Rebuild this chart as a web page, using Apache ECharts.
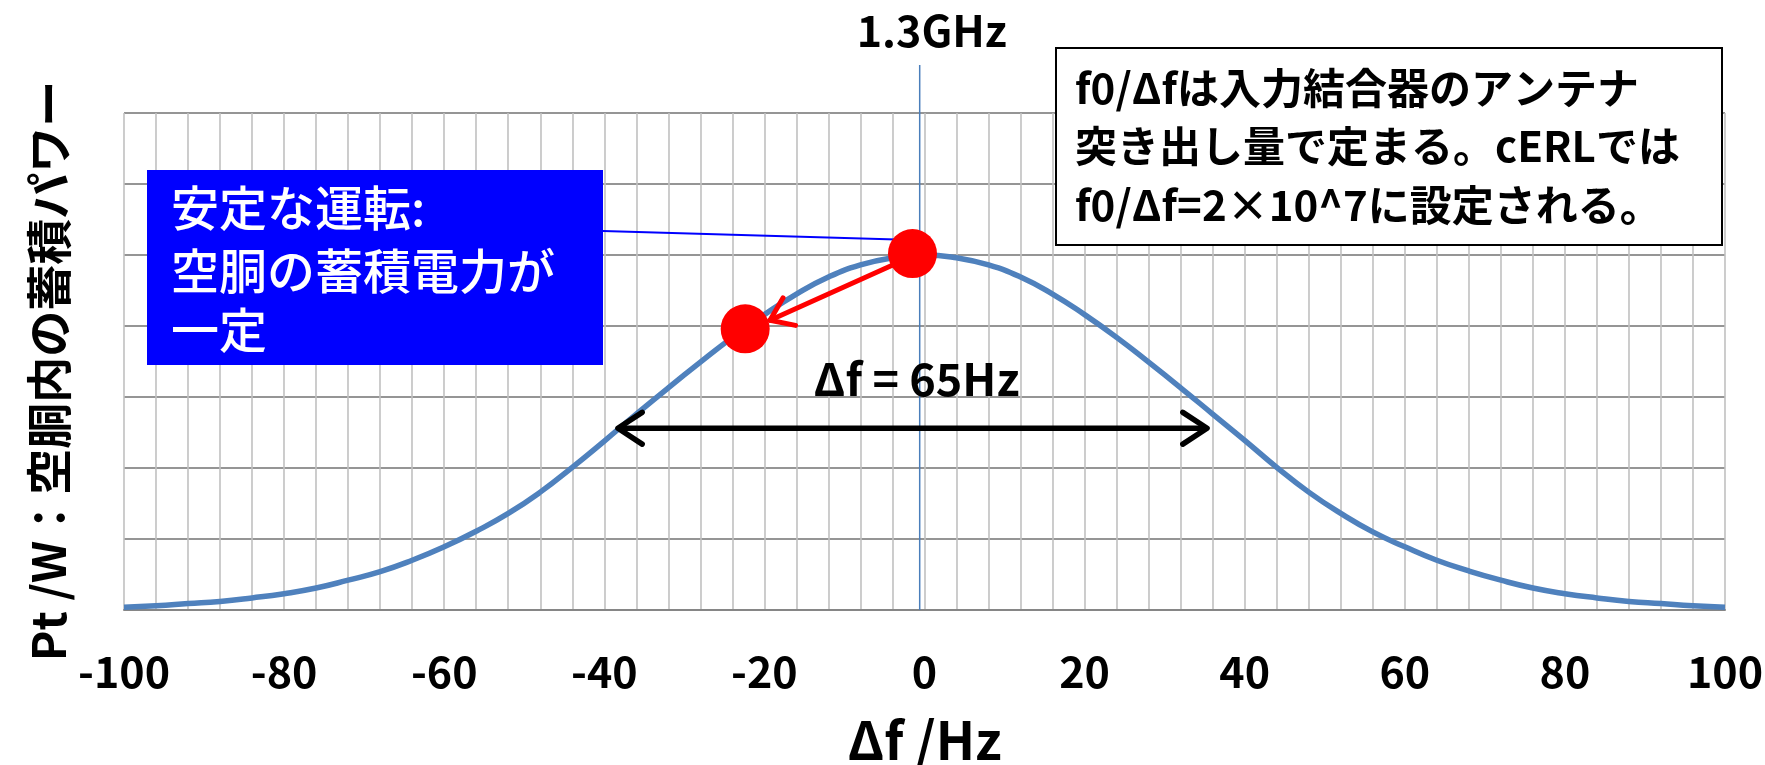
<!DOCTYPE html>
<html>
<head>
<meta charset="utf-8">
<script src="https://cdn.jsdelivr.net/npm/echarts@6/dist/echarts.min.js"></script>
<style>
  html, body { margin: 0; padding: 0; background: #ffffff; }
  #chart { width: 1765px; height: 765px; }
</style>
</head>
<body>
<div id="chart"></div>
<script>
// Resonance curve of the cavity: stored power versus detuning
const freq = [-100, -96, -92, -88, -84, -80, -76, -72, -68, -64, -60, -56, -52, -48, -44, -40, -36, -32, -28, -24, -20, -16, -12, -8, -4,
  0, 4, 8, 12, 16, 20, 24, 28, 32, 36, 40, 44, 48, 52, 56, 60, 64, 68, 72, 76, 80, 84, 88, 92, 96, 100];
const power = [0.04, 0.06, 0.09, 0.12, 0.17, 0.23, 0.31, 0.42, 0.54, 0.70, 0.89, 1.11, 1.36, 1.66, 2.01, 2.38, 2.76, 3.13, 3.49, 3.84, 4.16, 4.45, 4.69, 4.86, 4.96,
  5.00, 4.96, 4.86, 4.69, 4.45, 4.16, 3.84, 3.49, 3.13, 2.76, 2.39, 2.01, 1.66, 1.36, 1.10, 0.89, 0.70, 0.55, 0.42, 0.31, 0.23, 0.17, 0.12, 0.09, 0.06, 0.04];

// Operating points (red dots)
const opFreq = [-1.5, -22.4];
const opPower = [5.02, 3.96];

// Annotation anchors, in axis units
const detuneArrowFrom = [-3.96, 4.86];
const detuneArrowTo = [-19.3, 4.08];
const bandwidthLevel = 2.56;
const bandwidthEnds = [-38.3, 35.3];
const bandwidthLabelAt = [-1.0, 3.26];
const centerFreq = -0.6;
const leaderEnd = [-3.5, 5.22];

const xTitle = 'Δf /Hz';
const yTitle = 'Pt /W：空胴内の蓄積パワー';
const centerLabel = '1.3GHz';
const bandwidthLabel = 'Δf = 65Hz';
const noteLines = ['f0/Δfは入力結合器のアンテナ', '突き出し量で定まる。cERLでは', 'f0/Δf=2×10^7に設定される。'];
const stableLines = ['安定な運転:', '空胴の蓄積電力が', '一定'];

const FONT = '"Noto Sans CJK JP", "Noto Sans", sans-serif';
const chart = echarts.init(document.getElementById('chart'), null, { renderer: 'canvas' });

chart.setOption({
  animation: false,
  backgroundColor: '#ffffff',
  grid: { left: 124, right: 40, top: 113, bottom: 155, containLabel: false, outerBoundsMode: 'none' },
  xAxis: {
    type: 'value', min: -100, max: 100, interval: 20,
    name: xTitle, nameLocation: 'middle', nameGap: 104,
    nameTextStyle: { fontFamily: FONT, fontWeight: 'bold', fontSize: 52, color: '#000' },
    axisLine: { show: true, onZero: false, lineStyle: { color: '#868686', width: 2 } },
    axisTick: { show: false },
    axisLabel: { margin: 40, fontFamily: FONT, fontWeight: 'bold', fontSize: 43, color: '#000' },
    splitLine: { show: true, lineStyle: { color: '#c0c0c0', width: 1.6 } },
    minorTick: { show: false, splitNumber: 5 },
    minorSplitLine: { show: true, lineStyle: { color: '#c0c0c0', width: 1.6 } }
  },
  yAxis: {
    type: 'value', min: 0, max: 7, interval: 1,
    axisLine: { show: false }, axisTick: { show: false }, axisLabel: { show: false },
    splitLine: { show: true, lineStyle: { color: '#959595', width: 2 } }
  },
  series: [
    {
      type: 'line', z: 2,
      data: freq.map((f, i) => [f, power[i]]),
      smooth: 0.5, showSymbol: false,
      lineStyle: { color: '#4F81BD', width: 5.5 }
    },
    {
      type: 'scatter', z: 5,
      data: opFreq.map((f, i) => [f, opPower[i]]),
      symbolSize: 49,
      itemStyle: { color: '#FF0000', opacity: 1 }
    }
  ]
});

const px = (p) => chart.convertToPixel({ gridIndex: 0 }, p);

// Open chevron arrow head at `tip`, arms pointing back toward `from`
function chevron(tip, from, len, ang) {
  const dx = from[0] - tip[0], dy = from[1] - tip[1];
  const d = Math.hypot(dx, dy), ux = dx / d, uy = dy / d;
  const arm = (a) => [tip[0] + len * (ux * Math.cos(a) - uy * Math.sin(a)),
                      tip[1] + len * (ux * Math.sin(a) + uy * Math.cos(a))];
  return [arm(ang), tip, arm(-ang)];
}

const g = [];

// Carrier-frequency marker line and its label
const cx = px([centerFreq, 0]);
g.push({ type: 'line', z: 1, shape: { x1: cx[0], y1: 65, x2: cx[0], y2: cx[1] },
  style: { stroke: '#4a7ebb', lineWidth: 1.5 } });
g.push({ type: 'text', z: 10, x: cx[0] + 12, y: 31,
  style: { text: centerLabel, font: 'bold 43px ' + FONT, fill: '#000', align: 'center', verticalAlign: 'middle' } });

// Y axis title
g.push({ type: 'text', z: 10, x: 49, y: 371, rotation: Math.PI / 2,
  style: { text: yTitle, font: 'bold 46px ' + FONT, fill: '#000', align: 'center', verticalAlign: 'middle' } });

// Detuning arrow between the operating points
const a0 = px(detuneArrowFrom), a1 = px(detuneArrowTo);
g.push({ type: 'line', z: 3, shape: { x1: a0[0], y1: a0[1], x2: a1[0], y2: a1[1] },
  style: { stroke: '#FF0000', lineWidth: 5, lineCap: 'round' } });
g.push({ type: 'polyline', z: 3, shape: { points: chevron(a1, a0, 26, 0.62) },
  style: { stroke: '#FF0000', lineWidth: 5, fill: null, lineCap: 'round', lineJoin: 'round' } });

// Bandwidth double arrow and label
const b0 = px([bandwidthEnds[0], bandwidthLevel]), b1 = px([bandwidthEnds[1], bandwidthLevel]);
g.push({ type: 'line', z: 4, shape: { x1: b0[0], y1: b0[1], x2: b1[0], y2: b1[1] },
  style: { stroke: '#000', lineWidth: 5.5 } });
g.push({ type: 'polyline', z: 4, shape: { points: chevron(b0, b1, 29, 0.58) },
  style: { stroke: '#000', lineWidth: 5.5, fill: null, lineCap: 'round', lineJoin: 'round' } });
g.push({ type: 'polyline', z: 4, shape: { points: chevron(b1, b0, 29, 0.58) },
  style: { stroke: '#000', lineWidth: 5.5, fill: null, lineCap: 'round', lineJoin: 'round' } });
const bl = px(bandwidthLabelAt);
g.push({ type: 'text', z: 10, x: bl[0], y: bl[1],
  style: { text: bandwidthLabel, font: 'bold 45px ' + FONT, fill: '#000', align: 'center', verticalAlign: 'middle' } });

// Blue callout with leader line to the peak operating point
const le = px(leaderEnd);
g.push({ type: 'line', z: 3, shape: { x1: 603, y1: 231, x2: le[0], y2: le[1] },
  style: { stroke: '#0000FF', lineWidth: 2 } });
g.push({ type: 'rect', z: 8, shape: { x: 147, y: 170, width: 456, height: 195 },
  style: { fill: '#0000FF' } });
[208, 271, 330].forEach((y, i) => g.push({ type: 'text', z: 9, x: 171, y: y,
  style: { text: stableLines[i], font: '500 48px ' + FONT, fill: '#ffffff', align: 'left', verticalAlign: 'middle' } }));

// Note box
g.push({ type: 'rect', z: 8, shape: { x: 1056, y: 48, width: 666, height: 197 },
  style: { fill: '#ffffff', stroke: '#000', lineWidth: 2 } });
[88, 146, 205].forEach((y, i) => g.push({ type: 'text', z: 9, x: 1075, y: y,
  style: { text: noteLines[i], font: 'bold 42px ' + FONT, fill: '#000', align: 'left', verticalAlign: 'middle' } }));

chart.setOption({ graphic: { elements: g } });
</script>
</body>
</html>
